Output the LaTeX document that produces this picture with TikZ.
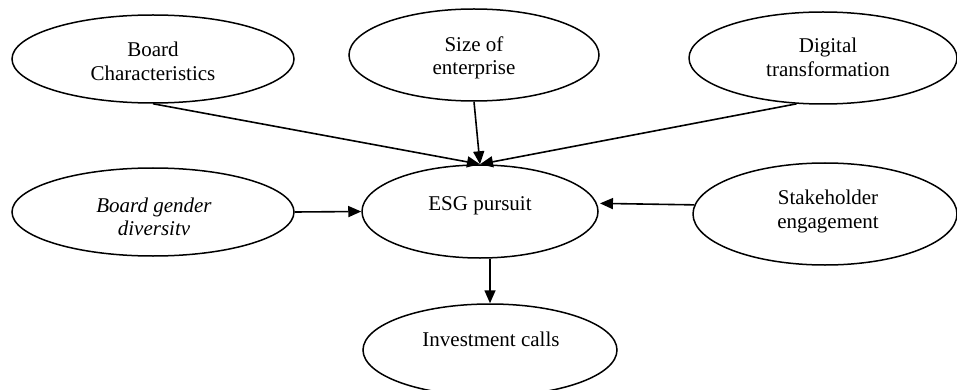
\documentclass[tikz,border=0pt]{standalone}
\usepackage{fontspec}
\setmainfont{Liberation Serif}
\usetikzlibrary{shapes.geometric,arrows.meta,calc}
\begin{document}
\begin{tikzpicture}[x=1pt,y=-1pt,
  oval/.style={draw,ellipse,line width=1.5pt,inner sep=0pt},
  lbl/.style={anchor=base,inner sep=0pt,font=\fontsize{21}{23}\selectfont},
  conn/.style={line width=1.6pt,-{Triangle[length=13pt,width=11pt]}}]
\useasboundingbox (0,0) rectangle (957,390);
\clip (0,0) rectangle (957,390);
% ellipses
\node[oval,minimum width=282pt,minimum height=88pt] (bc)  at (153,59)  {};
\node[oval,minimum width=250pt,minimum height=92pt] (sz)  at (474,55)  {};
\node[oval,minimum width=268pt,minimum height=92pt] (dt)  at (823,58)  {};
\node[oval,minimum width=282pt,minimum height=88pt] (bgd) at (153,212) {};
\node[oval,minimum width=236pt,minimum height=93pt] (esg) at (480,211.5) {};
\node[oval,minimum width=264pt,minimum height=102pt] (sh) at (825,214) {};
\node[oval,minimum width=254pt,minimum height=92pt] (ic)  at (490,350) {};
% labels
\node[lbl] (bct1) at (153,57) {Board};
\node[lbl] (bct2) at (153,81) {Characteristics};
\node[lbl] (szt1) at (474,52) {Size of};
\node[lbl] (szt2) at (474,75) {enterprise};
\node[lbl] (dtt1) at (828,53) {Digital};
\node[lbl] (dtt2) at (828,77) {transformation};
\node[lbl] (bgdt1) at (154,212) {\itshape Board gender};
\node[lbl] (bgdt2) at (154,235) {\itshape diversitv};
\node[lbl] (esgt) at (480,210) {ESG pursuit};
\node[lbl] (sht1) at (828,204) {Stakeholder};
\node[lbl] (sht2) at (828,228) {engagement};
\node[lbl] (ict) at (491,346) {Investment calls};
% connectors
\draw[conn] (bc.south) -- (esg.north);
\draw[conn] (sz.south) -- (esg.north);
\draw[conn] (dt.240) -- (esg.north);
\draw[conn] (bgd.east) -- (esg.west);
\draw[conn,shorten >=3pt] (sh.176) -- (esg.4);
\draw[conn] (esg.south -| ic.north) -- (ic.north);
\end{tikzpicture}
\end{document}
